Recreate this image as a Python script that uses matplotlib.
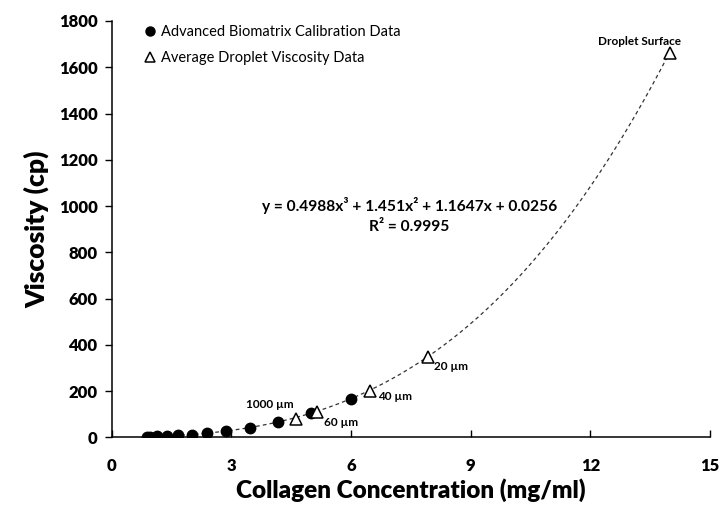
import numpy as np
import matplotlib
matplotlib.use("Agg")
import matplotlib.pyplot as plt
from matplotlib.lines import Line2D

plt.rcParams['font.family'] = ['Lato', 'DejaVu Sans']

# Calibration data (filled circles)
calib_x = [0.88, 0.965, 1.15, 1.40, 1.67, 2.01, 2.40, 2.87, 3.47, 4.17, 4.99, 6.00]
calib_y = [2.5, 3.0, 4.0, 6.0, 8.0, 12.0, 19.0, 28.0, 41.0, 65.0, 104.0, 166.0]

# Droplet data (open triangles)
drop_x = [4.62, 5.14, 6.48, 7.93, 14.0]
drop_y = [80.0, 110.0, 202.0, 347.0, 1662.0]
drop_labels = ["1000 µm", "60 µm", "40 µm", "20 µm", "Droplet Surface"]

# Trendline coefficients (cubic, highest order first)
trend_coef = [0.4988, 1.451, 1.1647, 0.0256]
trend_range = [0.88, 14.0]

x_ticks = [0, 3, 6, 9, 12, 15]
y_ticks = [0, 200, 400, 600, 800, 1000, 1200, 1400, 1600, 1800]

fig = plt.figure(figsize=(7.21, 5.12), dpi=100)
ax = fig.add_axes([0.1547, 0.1459, 0.8303, 0.8131])

xs = np.linspace(trend_range[0], trend_range[1], 300)
ax.plot(xs, np.polyval(trend_coef, xs), ls=(0, (3, 2.5)), color='#333333', lw=0.9, zorder=1)

ax.plot(calib_x, calib_y, 'o', color='black', ms=7.5, zorder=3)
ax.plot(drop_x, drop_y, '^', mfc='white', mec='black', mew=1.1, ms=8, zorder=4)

label_style = [
    dict(xytext=(-19, 10), ha='center'),
    dict(xytext=(5, -8), ha='left'),
    dict(xytext=(6, -4), ha='left'),
    dict(xytext=(4, -7), ha='left'),
    dict(xytext=(-22, 8), ha='center'),
]
for x, y, lab, st in zip(drop_x, drop_y, drop_labels, label_style):
    ax.annotate(lab, (x, y), xytext=st['xytext'], textcoords='offset points',
                fontsize=8.5, fontweight='bold', ha=st['ha'], va='center')

ax.text(0.498, 0.557, "y = 0.4988x³ + 1.451x² + 1.1647x + 0.0256", transform=ax.transAxes,
        fontsize=11.2, fontweight='bold', ha='center', va='center')
ax.text(0.498, 0.506, "R² = 0.9995", transform=ax.transAxes,
        fontsize=11.2, fontweight='bold', ha='center', va='center')

ax.set_xlim(0, 15)
ax.set_ylim(0, 1800)
ax.set_xticks(x_ticks)
ax.set_yticks(y_ticks)
for lbl in ax.get_xticklabels() + ax.get_yticklabels():
    lbl.set_fontweight('heavy')
ax.tick_params(axis='x', direction='in', length=5, labelsize=12, pad=15, width=1)
ax.tick_params(axis='y', direction='out', length=5, labelsize=12, pad=5, width=1)
ax.spines['top'].set_visible(False)
ax.spines['right'].set_visible(False)
ax.spines['left'].set_linewidth(1.1)
ax.spines['bottom'].set_linewidth(1.1)

ax.set_xlabel("Collagen Concentration (mg/ml)", fontsize=17.5, fontweight='heavy', labelpad=3)
ax.set_ylabel("Viscosity (cp)", fontsize=19, fontweight='heavy', labelpad=7)

handles = [Line2D([], [], marker='o', ls='none', color='black', ms=6.5),
           Line2D([], [], marker='^', ls='none', mfc='white', mec='black', mew=1.1, ms=6.5)]
ax.legend(handles, ["Advanced Biomatrix Calibration Data", "Average Droplet Viscosity Data"],
          loc='upper left', bbox_to_anchor=(0.03, 1.022), frameon=False, fontsize=10.5,
          handletextpad=0.25, handlelength=1.0, labelspacing=0.85)

fig.savefig("out.png", dpi=100)
